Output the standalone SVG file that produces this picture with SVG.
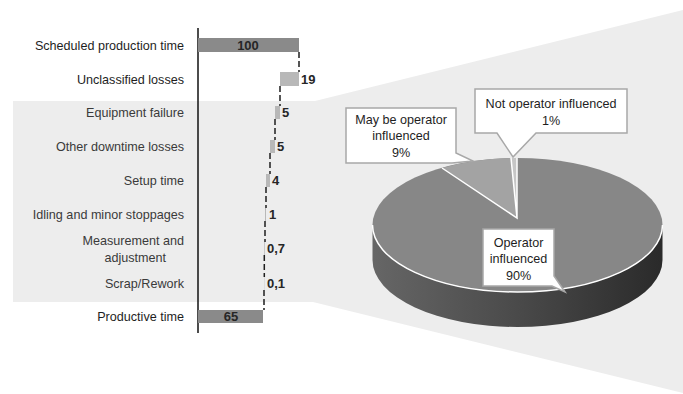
<svg xmlns="http://www.w3.org/2000/svg" width="683" height="394" viewBox="0 0 683 394">
<style>
  text { font-family: "Liberation Sans", Arial, sans-serif; font-size: 12.6px; fill: #1e1e1e; }
  .lbl { text-anchor: end; }
  .inner { fill: #3a3a3a; }
  .num { font-weight: bold; fill: #262626; font-size: 13px; }
  .mid { text-anchor: middle; }
  .bar-dark { fill: #8a8a8a; }
  .bar-light { fill: #b8b8b8; }
  .dash { stroke: #1e1e1e; stroke-width: 1.5; stroke-dasharray: 6 3; fill: none; }
  .callout { fill: #ffffff; stroke: #a8a8a8; stroke-width: 1.5; }
  .sep { stroke: #ffffff; stroke-width: 1.5; fill: none; }
</style>
<defs>
  <linearGradient id="side" x1="0" y1="0" x2="1" y2="0">
    <stop offset="0" stop-color="#666666"/>
    <stop offset="0.5" stop-color="#4a4a4a"/>
    <stop offset="1" stop-color="#2a2a2a"/>
  </linearGradient>
</defs>
<rect width="683" height="394" fill="#ffffff"/>
<g id="background">
  <path d="M13,101 H315 L683,10 V393 L313,302 H13 Z" fill="#ededed"/>
</g>
<g id="axis">
  <line x1="198" y1="28" x2="198" y2="333" stroke="#111" stroke-width="1.5"/>
</g>
<g id="connectors">
  <line class="dash" x1="299" y1="52" x2="299" y2="72"/>
  <line class="dash" x1="280" y1="86" x2="280" y2="106"/>
  <line class="dash" x1="275" y1="119" x2="275" y2="140"/>
  <line class="dash" x1="270" y1="153" x2="270" y2="174"/>
  <line class="dash" x1="266" y1="187" x2="266" y2="208"/>
  <line class="dash" x1="265" y1="221" x2="265" y2="242"/>
  <line class="dash" x1="264.3" y1="255" x2="264.3" y2="277"/>
  <line class="dash" x1="264" y1="290" x2="264" y2="310"/>
</g>
<g id="scheduled">
  <text class="lbl" x="184" y="49.5">Scheduled production time</text>
  <rect class="bar-dark" x="198" y="38" width="101" height="14"/>
  <text class="num mid" x="248" y="49.5">100</text>
</g>
<g id="unclassified">
  <text class="lbl" x="184" y="83.5">Unclassified losses</text>
  <rect class="bar-light" x="280" y="72" width="19" height="14"/>
  <text class="num" x="301" y="83.5">19</text>
</g>
<g id="equipment">
  <text class="lbl inner" x="184" y="117">Equipment failure</text>
  <rect class="bar-light" x="275" y="106" width="5" height="13"/>
  <text class="num" x="282" y="117">5</text>
</g>
<g id="downtime">
  <text class="lbl inner" x="184" y="151">Other downtime losses</text>
  <rect class="bar-light" x="270" y="140" width="5" height="13"/>
  <text class="num" x="277" y="151">5</text>
</g>
<g id="setup">
  <text class="lbl inner" x="184" y="185">Setup time</text>
  <rect class="bar-light" x="266" y="174" width="4" height="13"/>
  <text class="num" x="272" y="185">4</text>
</g>
<g id="idling">
  <text class="lbl inner" x="184" y="219">Idling and minor stoppages</text>
  <rect class="bar-light" x="265" y="208" width="1" height="13"/>
  <text class="num" x="269" y="219">1</text>
</g>
<g id="measurement">
  <text class="lbl inner" x="184" y="244.5">Measurement and</text>
  <text class="lbl inner" x="166" y="262">adjustment</text>
  <rect class="bar-light" x="264.3" y="242" width="0.7" height="13"/>
  <text class="num" x="267" y="253">0,7</text>
</g>
<g id="scrap">
  <text class="lbl inner" x="184" y="288">Scrap/Rework</text>
  <rect class="bar-light" x="264.2" y="277" width="0.3" height="13"/>
  <text class="num" x="267" y="288">0,1</text>
</g>
<g id="productive">
  <text class="lbl" x="184" y="321">Productive time</text>
  <rect class="bar-dark" x="198" y="310" width="65" height="13"/>
  <text class="num mid" x="231" y="321">65</text>
</g>
<g id="pie">
  <path d="M372.5,225 V260 A145,67 0 0 0 662.5,260 V225 A145,67 0 0 1 372.5,225 Z" fill="url(#side)"/>
  <ellipse cx="517.5" cy="225" rx="145" ry="67" fill="#878787"/>
  <path d="M517,218 L442,168 A145,67 0 0 1 511,158 Z" fill="#a3a3a3"/>
  <path d="M517,218 L511,158 A145,67 0 0 1 517,158 Z" fill="#c6c6c6"/>
  <path class="sep" d="M442,168 L517,218 L511,158 M517,218 L517,158"/>
  <path class="sep" d="M372.5,225 A145,67 0 0 0 662.5,225"/>
</g>
<g id="callout-may">
  <path class="callout" d="M346,108 H456 V153 L473,161 L452,163 H346 Z"/>
  <text class="mid" x="401" y="123.5">May be operator</text>
  <text class="mid" x="401" y="140">influenced</text>
  <text class="mid" x="401" y="157">9%</text>
</g>
<g id="callout-not">
  <path class="callout" d="M475,89 H627 V133 H536 L513,157 L497,133 H475 Z"/>
  <text class="mid" x="551" y="107.5">Not operator influenced</text>
  <text class="mid" x="551" y="124.5">1%</text>
</g>
<g id="callout-operator">
  <path class="callout" d="M483,229 H554 V276 L565,292 L552,286 H483 Z"/>
  <text class="mid" x="518.5" y="246.5">Operator</text>
  <text class="mid" x="518.5" y="263">influenced</text>
  <text class="mid" x="518.5" y="279.5">90%</text>
</g>
</svg>
